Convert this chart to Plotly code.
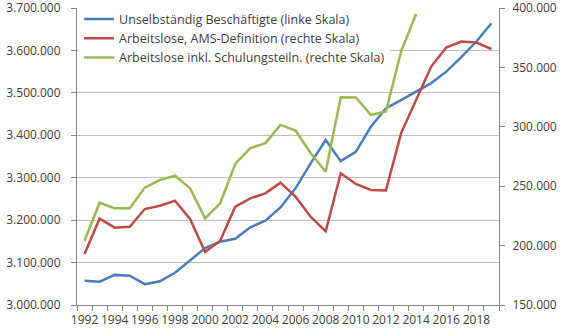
import plotly.graph_objects as go

years = list(range(1992, 2020))

beschaeftigte = [3057000, 3055000, 3071000, 3069000, 3049000, 3056000, 3076000,
                 3106000, 3134000, 3149000, 3156000, 3183000, 3199000, 3230000,
                 3275000, 3334000, 3389000, 3339000, 3361000, 3420000, 3464000,
                 3483000, 3503000, 3523000, 3550000, 3584000, 3621000, 3664000]

arbeitslose_ams = [192900, 222700, 215100, 215900, 230800, 233600, 237800,
                   222400, 194600, 204100, 232800, 239800, 244000, 253000,
                   241200, 224300, 212000, 260900, 251900, 246800, 246500,
                   294500, 322600, 350700, 366700, 371700, 370900, 365500]

years_schulung = list(range(1992, 2015))
arbeitslose_schulung = [204100, 236100, 231400, 231400, 248800, 255200, 258900,
                        248200, 223000, 235600, 268700, 282000, 286300, 301600,
                        296800, 278000, 262200, 324900, 324700, 310000, 312800,
                        363300, 395000]

names = ["Unselbständig Beschäftigte (linke Skala)",
         "Arbeitslose, AMS-Definition (rechte Skala)",
         "Arbeitslose inkl. Schulungsteiln. (rechte Skala)"]

left_ticks = list(range(3000000, 3700001, 100000))
right_ticks = list(range(150000, 400001, 50000))
label_years = list(range(1992, 2019, 2))

font_family = "Open Sans"
txt = "#404040"
axis_col = "#868686"
grid_col = "#bfbfbf"

fig = go.Figure()
fig.add_trace(go.Scatter(x=years, y=beschaeftigte, mode="lines", name=names[0],
                         line=dict(color="#4A7EBB", width=2.5), legendgroup="a"))
fig.add_trace(go.Scatter(x=years, y=arbeitslose_ams, mode="lines", name=names[1],
                         line=dict(color="#BE4B48", width=2.5), yaxis="y2", legendgroup="b"))
fig.add_trace(go.Scatter(x=years_schulung, y=arbeitslose_schulung, mode="lines", name=names[2],
                         line=dict(color="#98B954", width=2.5), yaxis="y2", legendgroup="c"))

fig.update_layout(
    width=563, height=334,
    margin=dict(l=77, r=64, t=8, b=29, autoexpand=False),
    paper_bgcolor="white", plot_bgcolor="white",
    separators=",.",
    font=dict(family=font_family, size=12, color=txt),
    showlegend=True,
    legend=dict(x=0.005, y=1.012, xanchor="left", yanchor="top", bgcolor="white",
                font=dict(size=12.5, color=txt), tracegroupgap=6,
                itemwidth=30, traceorder="normal"),
    xaxis=dict(range=[1991.5, 2019.5], tickmode="array", tickvals=label_years,
               ticktext=[str(y) for y in label_years], ticks="", showgrid=False,
               showline=True, linecolor=axis_col, linewidth=1, zeroline=False,
               ticklabelstandoff=4, tickangle=0, automargin=False,
               tickfont=dict(size=12, color=txt),
               minor=dict(tickmode="array", tickvals=[1991.5 + i for i in range(29)],
                          ticks="outside", ticklen=5, tickcolor=axis_col, showgrid=False)),
    yaxis=dict(range=[3000000, 3700000], tickmode="array", tickvals=left_ticks,
               tickformat=",d", showgrid=True, gridcolor=grid_col, gridwidth=1,
               showline=True, linecolor=axis_col, linewidth=1, zeroline=False,
               ticks="outside", ticklen=5, tickcolor=axis_col, ticklabelstandoff=8,
               ticklabeloverflow="allow", automargin=False,
               tickfont=dict(size=12, color=txt)),
    yaxis2=dict(range=[150000, 400000], tickmode="array", tickvals=right_ticks,
                tickformat=",d", overlaying="y", side="right", showgrid=False,
                showline=True, linecolor=axis_col, linewidth=1, zeroline=False,
                ticks="outside", ticklen=5, tickcolor=axis_col, ticklabelstandoff=5,
                ticklabeloverflow="allow", automargin=False,
                tickfont=dict(size=12, color=txt)),
)

fig.write_html("out.html")
